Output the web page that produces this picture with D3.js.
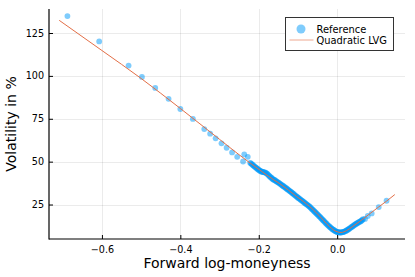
<!DOCTYPE html>
<html>
<head>
<meta charset="utf-8">
<script src="https://cdn.jsdelivr.net/npm/d3@7"></script>
<style>
  body { margin: 0; background: #fff; }
  svg { display: block; font-family: "DejaVu Sans", sans-serif; }
</style>
</head>
<body>
<div id="chart"></div>
<script>
// Reference implied vols (forward log-moneyness, vol in %)
const refMoneyness = [
  -0.688, -0.607, -0.532, -0.498, -0.464, -0.430, -0.400, -0.368, -0.339, -0.324,
  -0.310, -0.295, -0.282, -0.268, -0.255, -0.240, -0.237, -0.228,
  -0.222, -0.220, -0.218, -0.216, -0.214, -0.212, -0.210, -0.208, -0.206, -0.204,
  -0.202, -0.200, -0.198, -0.196, -0.194, -0.192, -0.190, -0.188, -0.186, -0.184,
  -0.182, -0.180, -0.178, -0.176, -0.174, -0.172, -0.170, -0.168, -0.166, -0.164,
  -0.162, -0.160, -0.158, -0.156, -0.154, -0.152, -0.150, -0.148, -0.146, -0.144,
  -0.142, -0.140, -0.138, -0.136, -0.134, -0.132, -0.130, -0.128, -0.126, -0.124,
  -0.122, -0.120, -0.118, -0.116, -0.114, -0.112, -0.110, -0.108, -0.106, -0.104,
  -0.102, -0.100, -0.098, -0.096, -0.094, -0.092, -0.090, -0.088, -0.086, -0.084,
  -0.082, -0.080, -0.078, -0.076, -0.074, -0.072, -0.070, -0.068, -0.066, -0.064,
  -0.062, -0.060, -0.058, -0.056, -0.054, -0.052, -0.050, -0.048, -0.046, -0.044,
  -0.042, -0.040, -0.038, -0.036, -0.034, -0.032, -0.030, -0.028, -0.026, -0.024,
  -0.022, -0.020, -0.018, -0.016, -0.014, -0.012, -0.010, -0.008, -0.006, -0.004,
  -0.002, 0.000, 0.002, 0.004, 0.006, 0.008, 0.010, 0.012, 0.014, 0.016,
  0.018, 0.020, 0.022, 0.024, 0.026, 0.028, 0.030, 0.032, 0.034, 0.036,
  0.038, 0.040, 0.042, 0.044, 0.046, 0.048, 0.050, 0.052, 0.054, 0.056,
  0.058, 0.060, 0.062, 0.064, 0.066,
  0.071, 0.078, 0.088, 0.106, 0.126
];
const refVol = [
  134.9, 120.1, 106.0, 99.4, 93.0, 86.6, 80.7, 74.9, 69.0, 66.3,
  63.6, 60.7, 58.1, 55.4, 52.8, 50.1, 54.2, 52.8,
  49.3, 49.0, 48.6, 48.2, 47.8, 47.4, 47.0, 46.7, 46.3, 45.9,
  45.6, 45.2, 44.9, 44.6, 44.3, 44.1, 44.0, 43.9, 43.8, 43.7,
  43.5, 43.2, 42.8, 42.3, 41.9, 41.4, 41.0, 40.6, 40.2, 39.8,
  39.5, 39.3, 39.0, 38.7, 38.4, 38.1, 37.8, 37.5, 37.2, 36.8,
  36.5, 36.1, 35.8, 35.5, 35.2, 34.8, 34.5, 34.1, 33.8, 33.4,
  33.1, 32.7, 32.4, 32.0, 31.6, 31.3, 30.9, 30.5, 30.1, 29.8,
  29.4, 29.0, 28.7, 28.3, 28.0, 27.6, 27.3, 26.9, 26.6, 26.2,
  25.8, 25.5, 25.1, 24.8, 24.4, 24.1, 23.7, 23.2, 22.8, 22.3,
  21.9, 21.4, 21.0, 20.5, 20.1, 19.6, 19.2, 18.7, 18.2, 17.8,
  17.3, 16.8, 16.3, 15.9, 15.4, 14.9, 14.4, 14.0, 13.5, 13.0,
  12.6, 12.2, 11.8, 11.4, 11.0, 10.6, 10.3, 10.0, 9.7, 9.4,
  9.2, 9.0, 8.9, 8.8, 8.7, 8.7, 8.7, 8.8, 8.9, 9.0,
  9.2, 9.4, 9.6, 9.9, 10.2, 10.5, 10.8, 11.1, 11.4, 11.8,
  12.1, 12.4, 12.7, 13.1, 13.4, 13.7, 14.0, 14.3, 14.5, 14.8,
  15.0, 15.3, 15.6, 16.0, 16.5,
  16.6, 18.3, 19.8, 23.5, 27.2
];

// Quadratic LVG fitted curve
const fitMoneyness = [
  -0.709, -0.600, -0.500, -0.400, -0.300, -0.250, -0.222, -0.190, -0.163, -0.146,
  -0.103, -0.070, -0.052, -0.035, -0.019, 0.000, 0.010, 0.024, 0.040, 0.058,
  0.083, 0.106, 0.126, 0.147
];
const fitVol = [
  132.4, 114.8, 98.5, 81.0, 63.0, 54.0, 49.2, 43.9, 39.6, 37.1,
  29.6, 23.8, 19.9, 15.8, 12.0, 9.1, 8.7, 9.8, 12.3, 15.2,
  19.6, 23.6, 27.0, 30.8
];

const xTicks = [-0.6, -0.4, -0.2, 0.0];
const yTicks = [25, 50, 75, 100, 125];
const seriesNames = ["Reference", "Quadratic LVG"];

const width = 415;
const height = 277;
const plot = { left: 49, right: 405, top: 9, bottom: 239 };
const blue = "#009AFA";
const orange = "#E36F47";

const refData = refMoneyness.map((m, i) => ({ m: m, v: refVol[i] }));
const fitData = fitMoneyness.map((m, i) => ({ m: m, v: fitVol[i] }));

const x = d3.scaleLinear()
  .domain([-0.735, 0.173])
  .range([plot.left, plot.right]);
const y = d3.scaleLinear()
  .domain([4.9, 139])
  .range([plot.bottom, plot.top]);

const fmtX = d => (d < 0 ? "\u2212" : "") + Math.abs(d).toFixed(1);

const svg = d3.select("#chart")
  .append("svg")
    .attr("width", width)
    .attr("height", height);

// grid
const grid = svg.append("g")
    .attr("stroke", "#000")
    .attr("stroke-opacity", 0.08)
    .attr("stroke-width", 1);
grid.selectAll(".gx")
  .data(xTicks)
  .join("line")
    .attr("class", "gx")
    .attr("x1", d => Math.round(x(d)) + 0.5)
    .attr("x2", d => Math.round(x(d)) + 0.5)
    .attr("y1", plot.top)
    .attr("y2", plot.bottom);
grid.selectAll(".gy")
  .data(yTicks)
  .join("line")
    .attr("class", "gy")
    .attr("x1", plot.left)
    .attr("x2", plot.right)
    .attr("y1", d => Math.round(y(d)) + 0.5)
    .attr("y2", d => Math.round(y(d)) + 0.5);

// axes
const xAxis = svg.append("g")
    .attr("transform", `translate(0,${plot.bottom})`)
    .call(d3.axisBottom(x).tickValues(xTicks).tickFormat(fmtX).tickSizeInner(-4).tickSizeOuter(0).tickPadding(7));
const yAxis = svg.append("g")
    .attr("transform", `translate(${plot.left},0)`)
    .call(d3.axisLeft(y).tickValues(yTicks).tickSizeInner(-4).tickSizeOuter(0).tickPadding(5));

[xAxis, yAxis].forEach(a => {
  a.select(".domain").remove();
  a.selectAll("text")
      .attr("font-size", 9.6)
      .attr("font-family", "DejaVu Sans, sans-serif")
      .attr("fill", "#000");
  a.selectAll(".tick line").attr("stroke", "#000");
});

svg.append("line")
    .attr("x1", plot.left)
    .attr("x2", plot.left)
    .attr("y1", plot.top)
    .attr("y2", plot.bottom + 0.5)
    .attr("stroke", "#000")
    .attr("stroke-width", 1.2);
svg.append("line")
    .attr("x1", plot.left)
    .attr("x2", plot.right)
    .attr("y1", plot.bottom)
    .attr("y2", plot.bottom)
    .attr("stroke", "#000")
    .attr("stroke-width", 1.2);

// reference points
svg.append("g")
    .attr("fill", blue)
    .attr("fill-opacity", 0.5)
  .selectAll("circle")
  .data(refData)
  .join("circle")
    .attr("cx", d => x(d.m))
    .attr("cy", d => y(d.v))
    .attr("r", 2.9);

// fitted line
svg.append("path")
    .datum(fitData)
    .attr("fill", "none")
    .attr("stroke", orange)
    .attr("stroke-width", 1)
    .attr("d", d3.line()
      .x(d => x(d.m))
      .y(d => y(d.v))
      .curve(d3.curveMonotoneX));

// axis labels
svg.append("text")
    .attr("x", (plot.left + plot.right) / 2)
    .attr("y", 268)
    .attr("text-anchor", "middle")
    .attr("font-size", 14)
    .text("Forward log-moneyness");
svg.append("text")
    .attr("transform", `translate(15.5,${(plot.top + plot.bottom) / 2}) rotate(-90)`)
    .attr("text-anchor", "middle")
    .attr("font-size", 14)
    .text("Volatility in %");

// legend
const legend = svg.append("g")
    .attr("transform", "translate(285.5,17.5)");
legend.append("rect")
    .attr("width", 108)
    .attr("height", 33)
    .attr("fill", "#fff")
    .attr("stroke", "#333")
    .attr("stroke-width", 1);
legend.append("circle")
    .attr("cx", 15.5)
    .attr("cy", 11.5)
    .attr("r", 4.5)
    .attr("fill", blue)
    .attr("fill-opacity", 0.5);
legend.append("line")
    .attr("x1", 4)
    .attr("x2", 28)
    .attr("y1", 22.5)
    .attr("y2", 22.5)
    .attr("stroke", orange)
    .attr("stroke-opacity", 0.6)
    .attr("stroke-width", 1);
legend.selectAll(".legend-label")
  .data(seriesNames)
  .join("text")
    .attr("class", "legend-label")
    .attr("x", 31)
    .attr("y", (d, i) => 15 + i * 11.5)
    .attr("font-size", 9.9)
    .text(d => d);
</script>
</body>
</html>
